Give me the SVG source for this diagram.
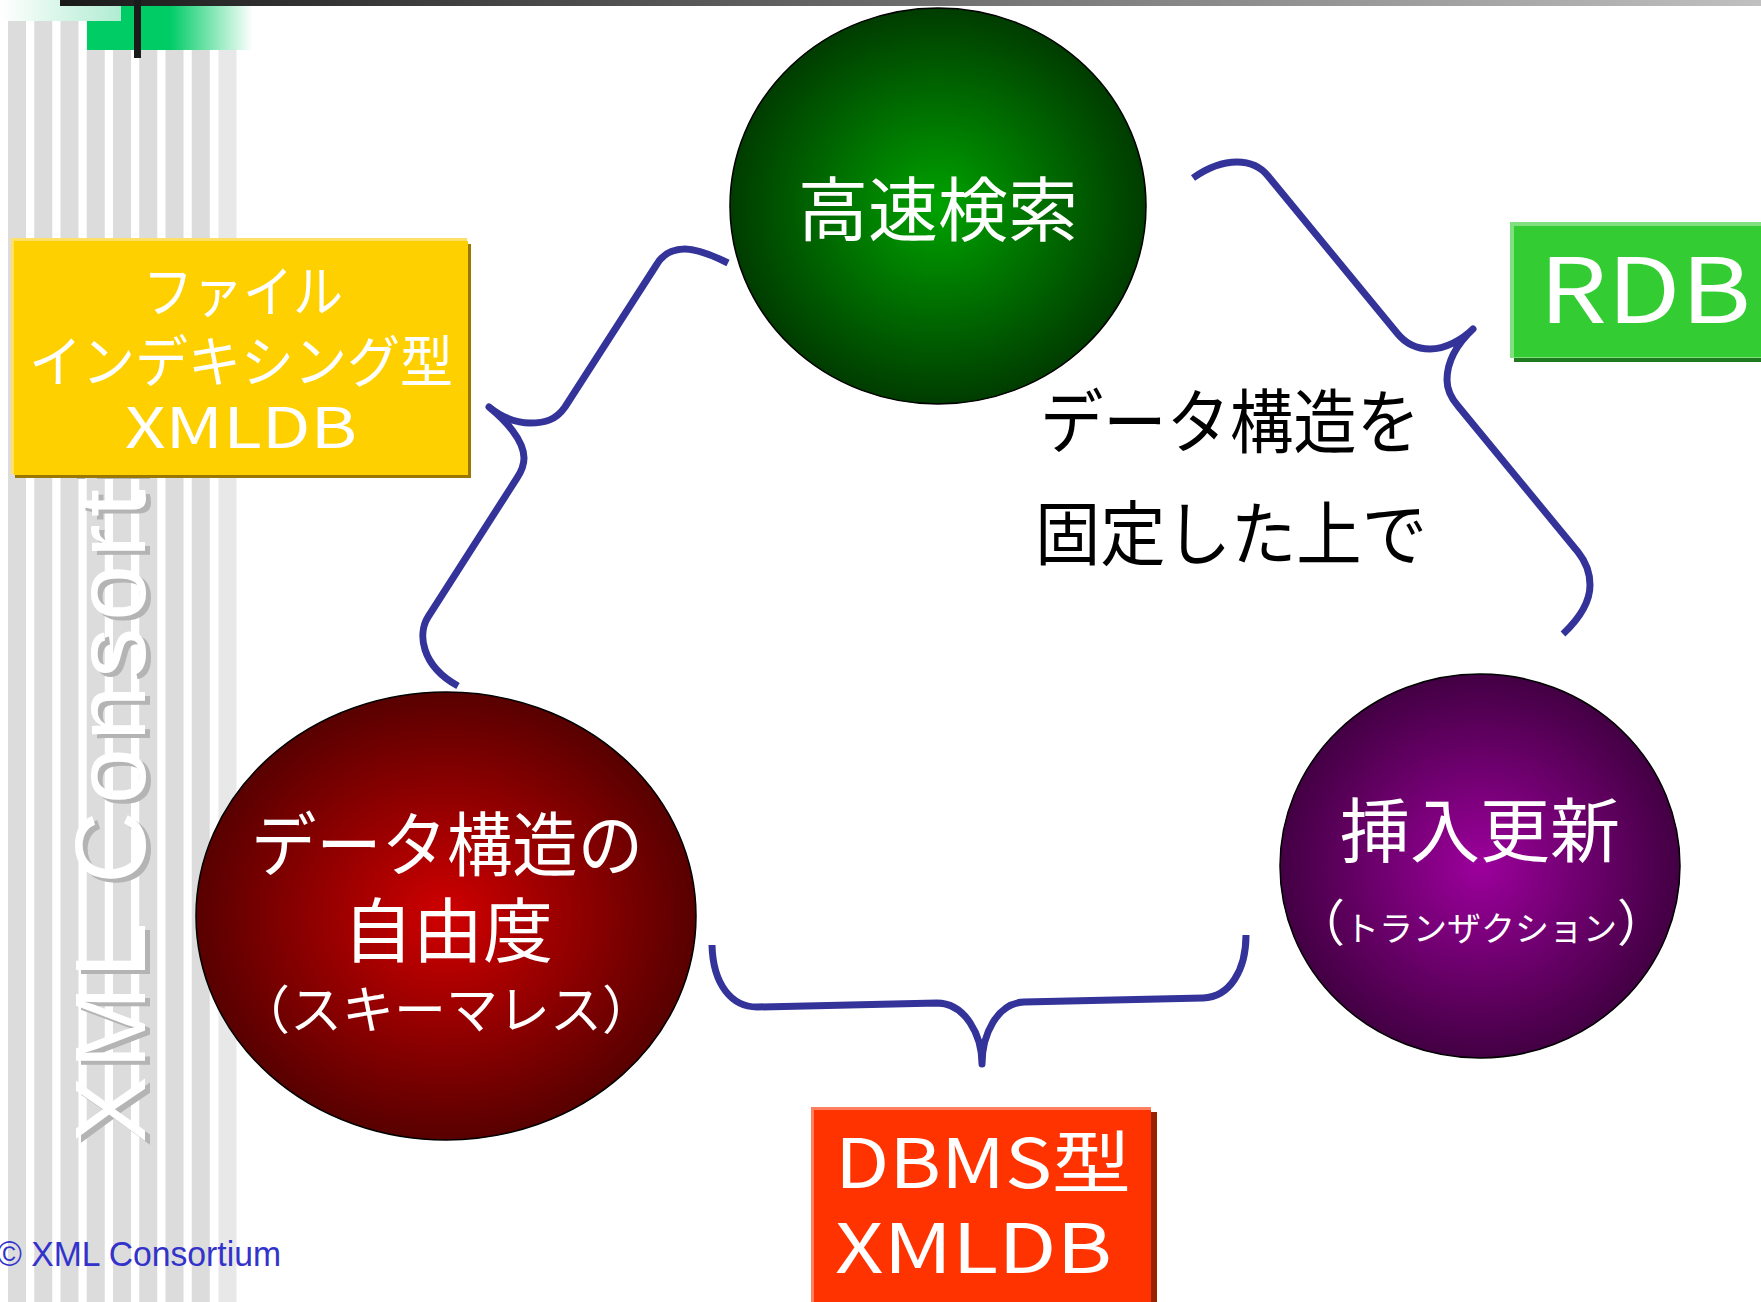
<svg xmlns="http://www.w3.org/2000/svg" width="1761" height="1302" viewBox="0 0 1761 1302">
<defs>
<style>
.jp{font-family:"Noto Sans CJK JP","Noto Sans",sans-serif;}
.wt{fill:#ffffff;}
.bk{fill:#000000;}
.stripe{fill:#dcdcdc;}
.brace{fill:none;stroke:#333399;stroke-width:7;stroke-linejoin:round;stroke-linecap:butt;}
.ell{stroke:#000000;stroke-width:1.5;}
</style>
<linearGradient id="gTopBar" x1="0" y1="0" x2="1" y2="0"><stop offset="0" stop-color="#1a1a1a"/><stop offset="1" stop-color="#c0c0c0"/></linearGradient>
<linearGradient id="gMint" x1="0" y1="0" x2="1" y2="0"><stop offset="0" stop-color="#ffffff"/><stop offset="1" stop-color="#b0ecd2"/></linearGradient>
<linearGradient id="gGreenBar" x1="87" y1="0" x2="253" y2="0" gradientUnits="userSpaceOnUse"><stop offset="0" stop-color="#00cc66"/><stop offset="0.5" stop-color="#00cc66"/><stop offset="1" stop-color="#ffffff"/></linearGradient>
<radialGradient id="gGreen" cx="0.5" cy="0.5" r="0.5"><stop offset="0" stop-color="#00a200"/><stop offset="1" stop-color="#003c00"/></radialGradient>
<radialGradient id="gRed" cx="0.5" cy="0.5" r="0.5"><stop offset="0" stop-color="#d00000"/><stop offset="1" stop-color="#580000"/></radialGradient>
<radialGradient id="gPurple" cx="0.5" cy="0.5" r="0.5"><stop offset="0" stop-color="#9c009c"/><stop offset="1" stop-color="#430043"/></radialGradient>
</defs>

<g id="background">
<rect x="0" y="0" width="1761" height="1302" fill="#ffffff"/>
<rect class="stripe" x="8" y="21" width="18" height="1281"/>
<rect class="stripe" x="34.25" y="21" width="18" height="1281"/>
<rect class="stripe" x="60.5" y="21" width="18" height="1281"/>
<rect class="stripe" x="86.75" y="21" width="18" height="1281"/>
<rect class="stripe" x="113" y="21" width="18" height="1281"/>
<rect class="stripe" x="139.25" y="21" width="18" height="1281"/>
<rect class="stripe" x="165.5" y="21" width="18" height="1281"/>
<rect class="stripe" x="191.75" y="21" width="18" height="1281"/>
<rect x="218.5" y="21" width="18" height="1281" fill="#e8e8e8"/>
<g transform="translate(145,1143) rotate(-90)" font-family="'Liberation Sans',Arial,sans-serif" font-size="100" letter-spacing="7.4">
<text x="-4" y="5" fill="#b4b4b4">XML Consortium</text>
<text x="0" y="0" fill="#ffffff">XML Consortium</text>
</g>
<rect x="87" y="0" width="166" height="50" fill="url(#gGreenBar)"/>
<rect x="0" y="0" width="121" height="21" fill="url(#gMint)"/>
<rect x="60" y="0" width="1701" height="6" fill="url(#gTopBar)"/>
<rect x="134" y="0" width="7" height="58" fill="#1a1a1a"/>
<text x="-3" y="1266" font-family="'Liberation Sans',Arial,sans-serif" font-size="35" fill="#3333cc" textLength="284" lengthAdjust="spacingAndGlyphs">© XML Consortium</text>
</g>

<g id="connectors">
<path id="brace-left" class="brace" d="M 728 263 C 712 255 698 249 685 249 C 672 249 663 254 657 264 L 565 407 C 556 420 545 423 530 423 C 515 423 500 416 489 407 C 505 420 524 440 524 458 C 524 466 521 472 517 478 L 428 617 C 418 633 420 665 458 686"/>
<path id="brace-right" class="brace" d="M 1193 178 C 1210 166 1225 162 1237 162 C 1250 162 1260 166 1268 176 L 1397 333 C 1405 343 1417 349 1430 349 C 1445 349 1462 340 1473 329 C 1457 344 1447 360 1447 380 C 1447 390 1451 398 1458 406 L 1578 552 C 1586 562 1590 572 1590 585 C 1590 602 1580 618 1563 634"/>
<path id="brace-bottom" class="brace" d="M 712 945 C 713 985 732 1007 757 1007 L 937 1003 C 965 1003 982 1035 982 1064 C 982 1035 997 1003 1024 1002 L 1203 998 C 1230 997 1246 970 1246 935"/>
</g>

<g id="node-file-xmldb">
<rect x="15" y="244" width="456" height="234" fill="#997700"/>
<rect x="11" y="238" width="456" height="236" fill="#ffe066"/>
<rect x="14" y="241" width="454" height="234" fill="#ffd000"/>
<text class="jp wt" x="243" y="312" font-size="56" text-anchor="middle" textLength="200" lengthAdjust="spacingAndGlyphs">ファイル</text>
<text class="jp wt" x="241" y="382" font-size="56" text-anchor="middle" textLength="424" lengthAdjust="spacingAndGlyphs">インデキシング型</text>
<text class="jp wt" x="241" y="448" font-size="56" text-anchor="middle" textLength="232" lengthAdjust="spacingAndGlyphs">XMLDB</text>
</g>

<g id="node-fast-search">
<ellipse class="ell" cx="938" cy="206" rx="208" ry="198" fill="url(#gGreen)"/>
<text class="jp wt" x="938" y="236" font-size="70" text-anchor="middle">高速検索</text>
</g>

<g id="node-schemaless">
<ellipse class="ell" cx="446" cy="916" rx="250" ry="224" fill="url(#gRed)"/>
<text class="jp wt" x="447" y="871" font-size="70" text-anchor="middle" textLength="392" lengthAdjust="spacingAndGlyphs">データ構造の</text>
<text class="jp wt" x="448" y="957" font-size="70" text-anchor="middle">自由度</text>
<text class="jp wt" x="446" y="1029" font-size="52" text-anchor="middle">（スキーマレス）</text>
</g>

<g id="node-transaction">
<ellipse class="ell" cx="1480" cy="866" rx="200" ry="192" fill="url(#gPurple)"/>
<text class="jp wt" x="1480" y="857" font-size="70" text-anchor="middle">挿入更新</text>
<text class="jp wt" x="1481" y="941" font-size="50" text-anchor="middle">（<tspan font-size="34">トランザクション</tspan>）</text>
</g>

<g id="label-fixed-structure">
<text class="jp bk" x="1230" y="448" font-size="70" text-anchor="middle" textLength="380" lengthAdjust="spacingAndGlyphs">データ構造を</text>
<text class="jp bk" x="1231" y="560" font-size="70" text-anchor="middle" textLength="392" lengthAdjust="spacingAndGlyphs">固定した上で</text>
</g>

<g id="node-rdb">
<rect x="1514" y="226" width="260" height="136" fill="#1f7a1f"/>
<rect x="1510" y="222" width="260" height="136" fill="#80e080"/>
<rect x="1514" y="226" width="256" height="131" fill="#33cc33"/>
<text class="jp wt" x="1539" y="323" font-size="90" textLength="212" lengthAdjust="spacingAndGlyphs">RDB</text>
</g>

<g id="node-dbms-xmldb">
<rect x="816" y="1112" width="341" height="200" fill="#992200"/>
<rect x="811" y="1107" width="340" height="200" fill="#ff8060"/>
<rect x="814" y="1110" width="337" height="200" fill="#ff3300"/>
<text class="jp wt" x="835" y="1188" font-size="68" textLength="296" lengthAdjust="spacingAndGlyphs">DBMS型</text>
<text class="jp wt" x="835" y="1273" font-size="68" textLength="277" lengthAdjust="spacingAndGlyphs">XMLDB</text>
</g>
</svg>
